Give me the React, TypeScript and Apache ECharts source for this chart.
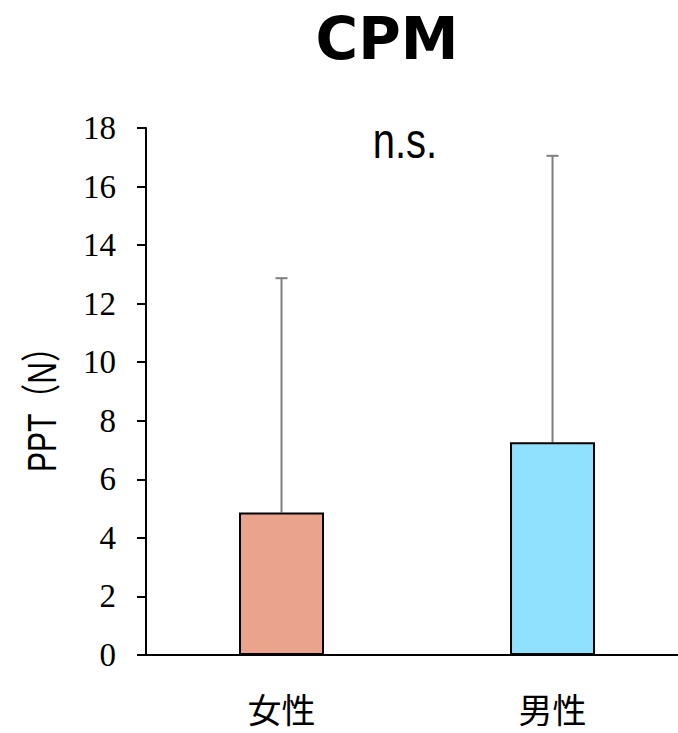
import React, { useEffect, useRef } from "react";
import * as echarts from "echarts";

const categories = ["女性", "男性"];
const means = [4.87, 7.27];
const upperErr = [12.87, 17.05];
const barColors = ["#EAA38D", "#8FE1FE"];
const yTicks = { min: 0, max: 18, interval: 2 };
const yName = "PPT（N）";
const sigLabel = "n.s.";

export default function App() {
  const ref = useRef<HTMLDivElement>(null);
  useEffect(() => {
    const chart = echarts.init(ref.current!, null, { renderer: "svg" });
    chart.setOption({
      animation: false,
      title: {
        text: "CPM",
        left: 382,
        textAlign: "center",
        top: 5,
        textStyle: { fontFamily: "Verdana, 'DejaVu Sans', sans-serif", fontWeight: "bold", fontSize: 58, color: "#000" },
      },
      graphic: [
        {
          type: "text",
          x: 405,
          y: 141,
          scaleY: 1.25,
          style: {
            text: sigLabel,
            font: "40px 'Liberation Sans', Arial, sans-serif",
            fill: "#000",
            textAlign: "center",
            textVerticalAlign: "middle",
          },
        },
        {
          type: "text",
          x: 42,
          y: 402,
          rotation: Math.PI / 2,
          scaleY: 1.35,
          style: {
            text: yName,
            font: "30px 'Liberation Sans', 'Noto Sans CJK JP', sans-serif",
            fill: "#000",
            textAlign: "center",
            textVerticalAlign: "middle",
          },
        },
      ],
      grid: { left: 146, top: 128, bottom: 78, right: 0 },
      xAxis: {
        type: "value",
        min: -0.5,
        max: 1.463,
        axisLine: { onZero: false, lineStyle: { color: "#000", width: 2 } },
        axisTick: { show: false },
        splitLine: { show: false },
        axisLabel: {
          customValues: [0, 1],
          formatter: (v: number) => categories[Math.round(v)] ?? "",
          fontSize: 34,
          lineHeight: 34,
          color: "#000",
          margin: 36,
          fontFamily: "'Noto Sans CJK JP', sans-serif",
        },
      },
      yAxis: {
        type: "value",
        min: yTicks.min,
        max: yTicks.max,
        interval: yTicks.interval,
        splitLine: { show: false },
        axisLine: { show: true, onZero: false, lineStyle: { color: "#000", width: 2 } },
        axisTick: { show: true, length: 9, lineStyle: { color: "#000", width: 2 } },
        axisLabel: { fontSize: 33, color: "#000", margin: 30, fontFamily: "'Liberation Serif', 'Times New Roman', serif" },
      },
      series: [
        {
          type: "bar",
          data: means.map((v, i) => ({ value: [i, v], itemStyle: { color: barColors[i] } })),
          barWidth: 85,
          itemStyle: { borderColor: "#000", borderWidth: 2 },
          z: 3,
        },
        {
          type: "custom",
          data: means.map((m, i) => [i, m, upperErr[i]]),
          z: 2,
          renderItem: (params: any, api: any) => {
            const x = api.value(0);
            const base = api.coord([x, api.value(1)]);
            const top = api.coord([x, api.value(2)]);
            const style = { stroke: "#7F7F7F", lineWidth: 2 };
            return {
              type: "group",
              children: [
                { type: "line", shape: { x1: base[0], y1: base[1], x2: top[0], y2: top[1] }, style },
                { type: "line", shape: { x1: top[0] - 6, y1: top[1], x2: top[0] + 6, y2: top[1] }, style },
              ],
            };
          },
        },
      ],
    });
    return () => chart.dispose();
  }, []);
  return <div ref={ref} style={{ width: 678, height: 733, position: "absolute", left: 0, top: 0 }} />;
}
